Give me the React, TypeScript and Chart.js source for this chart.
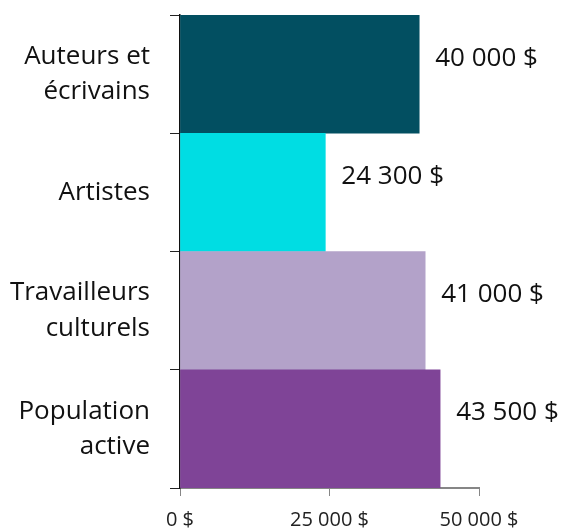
import React, { useEffect, useRef } from "react";
import { Chart, registerables } from "chart.js";

Chart.register(...registerables);

const categories: string[][] = [
  ["Auteurs et", "écrivains"],
  ["Artistes"],
  ["Travailleurs", "culturels"],
  ["Population", "active"],
];
const values: number[] = [40000, 24300, 41000, 43500];
const barColors: string[] = ["#024F61", "#00DDE3", "#B3A2C9", "#7F4497"];
const xTicks: number[] = [0, 25000, 50000];

const FONT = "'Open Sans', 'Noto Sans', sans-serif";

function fmt(v: number): string {
  return String(v).replace(/\B(?=(\d{3})+(?!\d))/g, " ") + " $";
}

const valueLabels = {
  id: "valueLabels",
  afterDatasetsDraw(chart: any) {
    const ctx = chart.ctx;
    const meta = chart.getDatasetMeta(0);
    ctx.save();
    ctx.font = `26px ${FONT}`;
    ctx.fillStyle = "#111111";
    ctx.textAlign = "left";
    ctx.textBaseline = "middle";
    meta.data.forEach((el: any, i: number) => {
      ctx.fillText(fmt(values[i]), el.x + 16, el.y - 16);
    });
    ctx.restore();
  },
};

export default function App() {
  const ref = useRef<HTMLCanvasElement | null>(null);
  useEffect(() => {
    document.body.style.margin = "0";
    const chart = new Chart(ref.current as HTMLCanvasElement, {
      type: "bar",
      data: {
        labels: categories,
        datasets: [
          {
            data: values,
            backgroundColor: barColors,
            barPercentage: 1,
            categoryPercentage: 1,
          },
        ],
      },
      plugins: [valueLabels],
      options: {
        indexAxis: "y",
        responsive: false,
        animation: false,
        layout: { padding: { top: 15, right: 85, left: 0, bottom: 0 } },
        plugins: { legend: { display: false }, tooltip: { enabled: false } },
        scales: {
          x: {
            min: 0,
            max: 50000,
            afterBuildTicks: (scale: any) => {
              scale.ticks = xTicks.map((v) => ({ value: v }));
            },
            afterFit: (scale: any) => {
              scale.height = 41;
              scale.paddingLeft = 0;
              scale.paddingRight = 0;
            },
            ticks: {
              callback: (v: any) => fmt(Number(v)),
              color: "#222222",
              font: { family: FONT, size: 20 },
              padding: 12,
              maxRotation: 0,
            },
            grid: {
              drawOnChartArea: false,
              tickLength: 8,
              color: "#868686",
            },
            border: { color: "#868686", width: 2 },
          },
          y: {
            afterFit: (scale: any) => {
              scale.width = 180;
              scale.paddingTop = 0;
              scale.paddingBottom = 0;
            },
            ticks: {
              color: "#111111",
              font: { family: FONT, size: 26, lineHeight: 1.35 },
              padding: 20,
            },
            grid: {
              drawOnChartArea: false,
              tickLength: 10,
              color: "#222222",
              offset: true,
            },
            border: { color: "#111111", width: 1.5 },
          },
        },
      },
    });
    return () => chart.destroy();
  }, []);
  return (
    <div style={{ width: 564, height: 529 }}>
      <canvas ref={ref} width={564} height={529} />
    </div>
  );
}
